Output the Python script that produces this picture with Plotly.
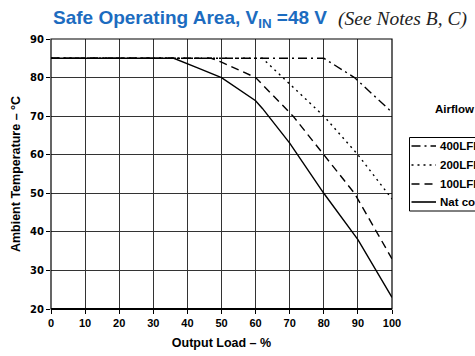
import plotly.graph_objects as go

# Derating curves: ambient temperature limit vs. output load for each airflow
series_names = ["400LFM", "200LFM", "100LFM", "Nat conv"]

lfm400_load = [0, 80, 89, 100]
lfm400_temp = [85, 85, 80, 71]

lfm200_load = [0, 62, 68, 80, 90, 100]
lfm200_temp = [85, 85, 80, 70, 60, 48.5]

lfm100_load = [0, 47, 50, 60, 71, 80, 89, 100]
lfm100_temp = [85, 85, 84, 80, 70, 60, 50, 33]

natconv_load = [0, 36, 43, 50, 60, 62, 70, 80, 90, 100]
natconv_temp = [85, 85, 82.5, 80, 74, 72, 63, 50, 38, 23]

x_ticks = [0, 10, 20, 30, 40, 50, 60, 70, 80, 90, 100]
y_ticks = [20, 30, 40, 50, 60, 70, 80, 90]

series_loads = [lfm400_load, lfm200_load, lfm100_load, natconv_load]
series_temps = [lfm400_temp, lfm200_temp, lfm100_temp, natconv_temp]
series_dash = ["9px,4px,2px,4px", "2px,4px", "8px,5px", "solid"]

W, H = 475, 356
M_L, M_R, M_T, M_B = 51, 83, 39, 47
PW = W - M_L - M_R
PH = H - M_T - M_B


def px(xp):
    """Pixel x -> paper x."""
    return (xp - M_L) / PW


def py(yp):
    """Pixel y -> paper y."""
    return (H - M_B - yp) / PH


BOLD = "Liberation Sans, Arial, sans-serif"

fig = go.Figure()
for name, xs, ys, dash in zip(series_names, series_loads, series_temps, series_dash):
    fig.add_trace(go.Scatter(
        x=xs, y=ys, name=name, mode="lines",
        line=dict(color="black", width=1.4, dash=dash),
        showlegend=False,
    ))

# Plot frame
fig.add_shape(type="rect", xref="paper", yref="paper", x0=0, x1=1, y0=0, y1=1,
              line=dict(color="black", width=1.2), layer="above")
fig.add_shape(type="line", xref="paper", yref="paper", x0=0, x1=1, y0=0, y1=0,
              line=dict(color="black", width=2.2), layer="above")

# Airflow key drawn beside the plot
fig.add_shape(type="rect", xref="paper", yref="paper",
              x0=px(409.5), x1=px(520), y0=py(211), y1=py(137.5),
              line=dict(color="black", width=1), fillcolor="white")
row_y = [146, 165, 184, 202]
for name, dash, ry in zip(series_names, series_dash, row_y):
    fig.add_shape(type="line", xref="paper", yref="paper",
                  x0=px(411.5), x1=px(436), y0=py(ry), y1=py(ry),
                  line=dict(color="black", width=1.6, dash=dash))
    fig.add_annotation(xref="paper", yref="paper", x=px(438), y=py(ry),
                       text="<b>%s</b>" % name, showarrow=False,
                       xanchor="left", yanchor="middle",
                       font=dict(family=BOLD, size=11.5, color="black"))
fig.add_annotation(xref="paper", yref="paper", x=px(433.5), y=py(109),
                   text="<b>Airflow</b>", showarrow=False,
                   xanchor="left", yanchor="middle",
                   font=dict(family=BOLD, size=11.5, color="black"))

# Heading
fig.add_annotation(xref="paper", yref="paper", x=px(51), y=py(19),
                   text="<b>Safe Operating Area, V<sub>IN</sub> =48 V</b>",
                   showarrow=False, xanchor="left", yanchor="middle",
                   font=dict(family=BOLD, size=19, color="#1c6cc0"))
fig.add_annotation(xref="paper", yref="paper", x=px(336), y=py(19),
                   text="<i>(See Notes B, C)</i>",
                   showarrow=False, xanchor="left", yanchor="middle",
                   font=dict(family="Liberation Serif, Times New Roman, serif",
                             size=19.5, color="#222222"))

axis_common = dict(
    showgrid=True, gridcolor="#333333", gridwidth=1,
    showline=False, zeroline=False,
    ticks="outside", ticklen=4, tickcolor="black", tickwidth=1,
)

fig.update_xaxes(
    range=[0, 100], tickvals=x_ticks, ticktext=[str(v) for v in x_ticks],
    tickfont=dict(family=BOLD, size=11, color="black", weight="bold"),
    title=dict(text="<b>Output Load – %</b>", standoff=10,
               font=dict(family=BOLD, size=12.5, color="black")),
    **axis_common,
)
fig.update_yaxes(
    range=[20, 90], tickvals=y_ticks, ticktext=[str(v) for v in y_ticks],
    tickfont=dict(family="DejaVu Sans, sans-serif", size=10, color="black",
                  weight="bold"),
    title=dict(text="<b>Ambient Temperature – °C</b>", standoff=6,
               font=dict(family=BOLD, size=12.5, color="black")),
    **axis_common,
)

fig.update_layout(
    width=W, height=H,
    margin=dict(l=M_L, r=M_R, t=M_T, b=M_B, autoexpand=False),
    paper_bgcolor="white", plot_bgcolor="white",
    showlegend=False,
)

fig.write_html("out.html")
